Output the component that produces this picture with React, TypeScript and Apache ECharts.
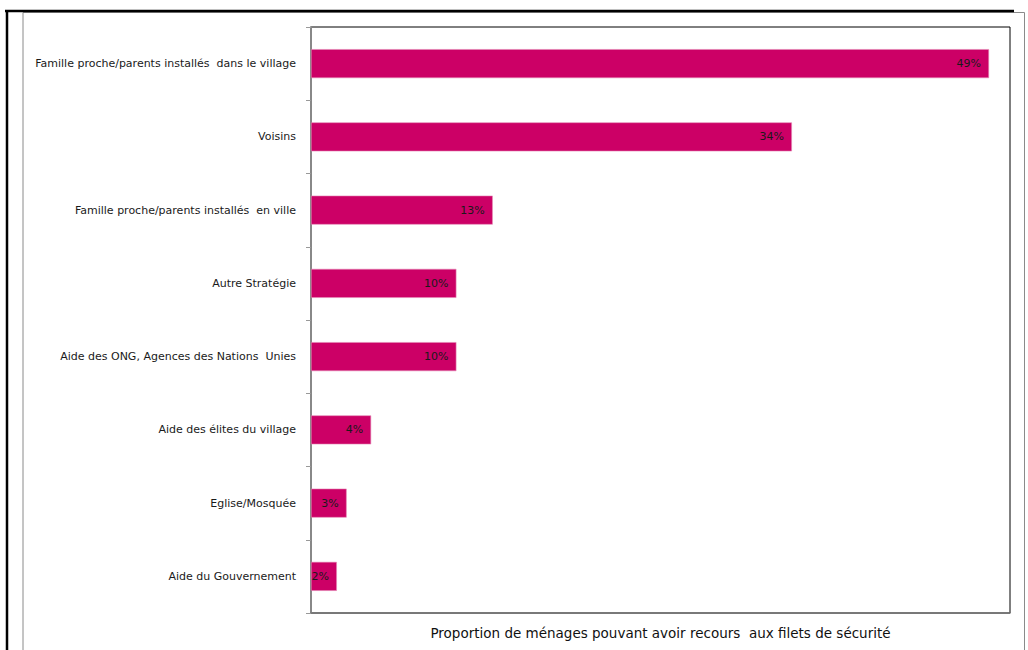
import React, { useEffect, useRef } from "react";
import * as echarts from "echarts";

const categories: string[] = [
  "Famille proche/parents installés  dans le village",
  "Voisins",
  "Famille proche/parents installés  en ville",
  "Autre Stratégie",
  "Aide des ONG, Agences des Nations  Unies",
  "Aide des élites du village",
  "Eglise/Mosquée",
  "Aide du Gouvernement",
];

// proportion of households (%), labels show rounded values
const values: number[] = [48.5, 34.4, 13.0, 10.4, 10.4, 4.3, 2.55, 1.85];

const axisTitle = "Proportion de ménages pouvant avoir recours  aux filets de sécurité";

export default function App() {
  const ref = useRef<HTMLDivElement>(null);
  useEffect(() => {
    if (!ref.current) return;
    const chart = echarts.init(ref.current, undefined, { renderer: "svg" });
    const font = "'DejaVu Sans', Verdana, sans-serif";
    chart.setOption({
      animation: false,
      backgroundColor: "#fff",
      textStyle: { fontFamily: font },
      grid: {
        left: 311,
        top: 27,
        right: 18,
        bottom: 37,
        show: true,
        borderColor: "#000",
        borderWidth: 1,
        backgroundColor: "transparent",
      },
      xAxis: {
        type: "value",
        min: 0,
        max: 50,
        axisLabel: { show: false },
        axisTick: { show: false },
        splitLine: { show: false },
        axisLine: { show: true, lineStyle: { color: "#777", width: 1.5 } },
        name: axisTitle,
        nameLocation: "middle",
        nameGap: 13,
        nameTextStyle: { fontSize: 13.5, color: "#111", fontFamily: font, verticalAlign: "top" },
      },
      yAxis: {
        type: "category",
        data: categories,
        inverse: true,
        axisLine: { show: true, lineStyle: { color: "#888", width: 2 } },
        axisTick: { show: true, length: 5, lineStyle: { color: "#999", width: 1 } },
        axisLabel: { fontSize: 11, color: "#1a1a1a", margin: 15, fontFamily: font },
        splitLine: { show: false },
      },
      series: [
        {
          type: "bar",
          data: values,
          barWidth: 29,
          itemStyle: { color: "#CC0066", borderColor: "#E48AB5", borderWidth: 0.6 },
          label: {
            show: true,
            position: "insideRight",
            distance: 8,
            color: "#1a1a1a",
            fontSize: 11,
            fontFamily: font,
            formatter: (p: any) => Math.round(p.value) + "%",
          },
        },
      ],
      graphic: [
        {
          type: "rect",
          shape: { x: 23, y: 12.5, width: 1001.5, height: 660 },
          style: { fill: "none", stroke: "#8a8a8a", lineWidth: 1 },
          silent: true,
        },
        {
          type: "line",
          shape: { x1: 5, y1: 11, x2: 1014, y2: 11 },
          style: { stroke: "#000", lineWidth: 2.5 },
          silent: true,
        },
        {
          type: "line",
          shape: { x1: 7, y1: 10, x2: 7, y2: 660 },
          style: { stroke: "#000", lineWidth: 2.5 },
          silent: true,
        },
      ],
    });
    return () => chart.dispose();
  }, []);
  return (
    <div
      ref={ref}
      style={{ position: "fixed", left: 0, top: 0, width: 1028, height: 650 }}
    />
  );
}
